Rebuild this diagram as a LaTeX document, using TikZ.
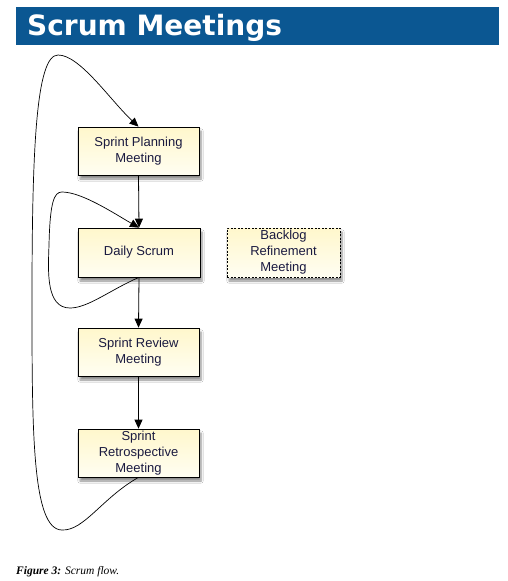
\documentclass[tikz,border=0pt]{standalone}
\usepackage{fontspec}
\setmainfont{Liberation Sans}
\newfontfamily\titlefont{DejaVu Sans}
\newfontfamily\capfont{Liberation Serif}
\usetikzlibrary{arrows.meta,shadows.blur}
\definecolor{titleblue}{RGB}{11,87,146}
\definecolor{boxtext}{RGB}{26,26,64}
\definecolor{boxtop}{RGB}{255,247,204}
\definecolor{boxbot}{RGB}{255,254,242}
\tikzset{
  meeting/.style={draw=black, line width=0.7pt, top color=boxtop, bottom color=boxbot,
    minimum width=121pt, minimum height=48pt, inner sep=0pt, align=center,
    text=boxtext, font=\fontsize{13}{16}\selectfont,
    blur shadow={shadow xshift=2pt, shadow yshift=-4pt, shadow blur steps=6, shadow opacity=45}},
  optional/.style={meeting, dashed, dash pattern=on 2pt off 1.5pt, minimum width=113pt},
  flow/.style={draw=black, line width=0.8pt, -{Triangle[length=9pt,width=8pt]}},
  loopline/.style={flow, line width=0.7pt}
}
\begin{document}
\begin{tikzpicture}[x=1pt,y=-1pt]
\useasboundingbox (0,0) rectangle (508,581);
\fill[white] (0,0) rectangle (508,581);
% title bar
\fill[titleblue] (16,7) rectangle (499,45);
\node[anchor=base west, text=white, font=\titlefont\bfseries\fontsize{28}{30}\selectfont, inner sep=0pt] (title) at (27,35) {Scrum Meetings};
% boxes
\node[meeting] (plan) at (138.5,151) {Sprint Planning\\Meeting};
\node[meeting, minimum width=122pt, minimum height=49pt] (daily) at (139,252.5) {Daily Scrum};
\node[meeting] (review) at (138.5,352) {Sprint Review\\Meeting};
\node[meeting] (retro) at (138.5,453) {Sprint\\Retrospective\\Meeting};
\node[optional, minimum height=49pt] (backlog) at (283.5,252.5) {Backlog\\Refinement\\Meeting};
% straight connectors
\draw[flow] (plan.south) -- (daily.north);
\draw[flow] (daily.south) -- (review.north);
\draw[flow] (review.south) -- (retro.north);
% daily loop
\draw[loopline] (daily.south) .. controls (110,290) and (88,308) .. (70,308)
  .. controls (46,308) and (48,272) .. (49,245)
  .. controls (50,202) and (54,192) .. (62,192)
  .. controls (82,192) and (115,214) .. (daily.north);
% sprint loop
\draw[loopline] (retro.south) .. controls (102,498) and (84,531) .. (62,530)
  .. controls (32,530) and (32,430) .. (32,300)
  .. controls (32,150) and (36,55) .. (58,55)
  .. controls (80,55) and (110,100) .. (plan.north);
% caption
\node[anchor=base west, inner sep=0pt, font=\capfont\fontsize{11.5}{13}\selectfont] (caption) at (16,574) {\textbf{\textit{Figure 3:}} \textit{Scrum flow.}};
\end{tikzpicture}
\end{document}
